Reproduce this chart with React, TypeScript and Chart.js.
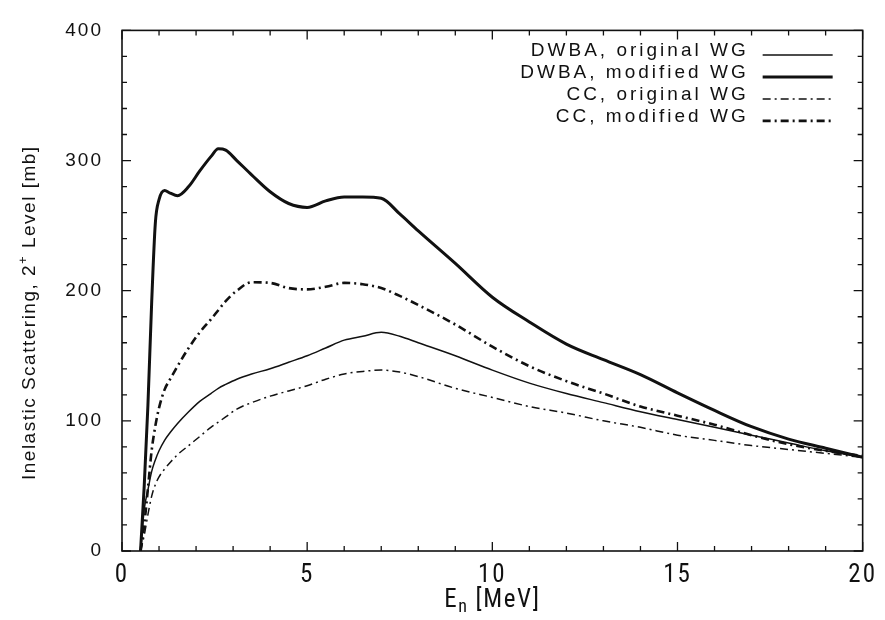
import React, { useEffect, useRef } from "react";
import { Chart, registerables } from "chart.js";

Chart.register(...registerables);

// Neutron energy grid [MeV]
const energies = [
  0.5, 0.6, 0.7, 0.8, 0.9, 1.0, 1.15, 1.3, 1.5, 1.8, 2.1, 2.4, 2.6, 2.8, 3.1, 3.5,
  4.0, 4.5, 5.0, 5.5, 6.0, 6.5, 7.0, 7.5, 8.0, 9.0, 10.0, 11.0, 12.0, 13.0, 14.0,
  15.0, 16.0, 17.0, 18.0, 19.0, 20.0,
];

// Inelastic scattering cross sections [mb]
const dwbaOriginal = [
  0, 32, 47, 61, 70, 77, 85, 91, 98, 107, 115, 121, 125, 128, 132, 136,
  140, 145, 150, 156, 162, 165, 168, 165, 160, 150, 139, 129, 121, 114, 107,
  101, 95, 89, 83, 77, 72,
];
const dwbaModified = [
  0, 50, 112, 190, 252, 270, 277, 275, 273, 280, 292, 303, 309, 308, 300, 289,
  276, 267, 264, 269, 272, 272, 271, 259, 246, 221, 195, 176, 159, 147, 135.5,
  121.5, 108, 95.5, 86, 79, 72,
];
const ccOriginal = [
  0, 12, 28, 42, 51, 57, 63, 68, 74, 81, 88, 95, 99, 103, 109, 114,
  119, 123, 127, 132, 136, 138, 139, 137.5, 134, 125, 118, 111, 106, 100, 95,
  89, 85, 81, 78, 75, 72,
];
const ccModified = [
  0, 20, 48, 77, 96, 110, 124, 132, 142, 156, 168, 178, 185, 192, 200, 206.5,
  206, 202, 201, 203, 206, 205, 202, 196, 189, 174, 157, 142, 130.5, 121, 111,
  104, 97, 89, 82, 77, 73,
];

const seriesLabels = [
  "DWBA, original WG",
  "DWBA, modified WG",
  "CC, original WG",
  "CC, modified WG",
];

const xMin = 0;
const xMax = 20;
const xMajorStep = 5;
const xMinorStep = 1;
const yMin = 0;
const yMax = 400;
const yMajorStep = 100;
const yMinorStep = 20;

const INK = "#111111";
const FONT = "'Liberation Sans', Arial, Helvetica, sans-serif";
const NARROW = "'Roboto Condensed', 'DejaVu Sans Condensed', sans-serif";

const framePlugin = {
  id: "gnuplotFrame",
  beforeDraw(chart: any) {
    chart.ctx.letterSpacing = "2px";
  },
  afterDraw(chart: any) {
    const { ctx, chartArea: a, scales } = chart;
    const xs = scales.x;
    const ys = scales.y;
    ctx.save();
    ctx.letterSpacing = "0px";
    ctx.setLineDash([]);
    ctx.strokeStyle = INK;
    ctx.fillStyle = INK;

    // frame
    ctx.lineWidth = 1.6;
    ctx.strokeRect(a.left, a.top, a.right - a.left, a.bottom - a.top);

    // inward tick marks (mirrored)
    ctx.lineWidth = 1.3;
    ctx.beginPath();
    for (let v = xMin; v <= xMax + 1e-9; v += xMinorStep) {
      const px = xs.getPixelForValue(v);
      const len = Math.abs(v % xMajorStep) < 1e-9 ? 9 : 5;
      ctx.moveTo(px, a.bottom);
      ctx.lineTo(px, a.bottom - len);
      ctx.moveTo(px, a.top);
      ctx.lineTo(px, a.top + len);
    }
    for (let v = yMin; v <= yMax + 1e-9; v += yMinorStep) {
      const py = ys.getPixelForValue(v);
      const len = Math.abs(v % yMajorStep) < 1e-9 ? 9 : 5;
      ctx.moveTo(a.left, py);
      ctx.lineTo(a.left + len, py);
      ctx.moveTo(a.right, py);
      ctx.lineTo(a.right - len, py);
    }
    ctx.stroke();

    // x-axis title: E_n [MeV]
    ctx.textBaseline = "alphabetic";
    ctx.textAlign = "left";
    ctx.letterSpacing = "1.5px";
    const bigX = `25px ${NARROW}`;
    const subX = `18px ${NARROW}`;
    ctx.font = bigX;
    const wE = ctx.measureText("E").width;
    const wRest = ctx.measureText(" [MeV]").width;
    ctx.font = subX;
    const wN = ctx.measureText("n").width;
    const cx = (a.left + a.right) / 2;
    const x0 = cx - (wE + wN + wRest) / 2;
    const base = a.bottom + 56;
    ctx.font = bigX;
    ctx.fillText("E", x0, base);
    ctx.font = subX;
    ctx.fillText("n", x0 + wE, base + 5);
    ctx.font = bigX;
    ctx.fillText(" [MeV]", x0 + wE + wN, base);

    // y-axis title
    ctx.save();
    ctx.translate(35, (a.top + a.bottom) / 2 + 22);
    ctx.rotate(-Math.PI / 2);
    ctx.letterSpacing = "1.5px";
    const bigY = `19px ${FONT}`;
    const supY = `13px ${FONT}`;
    const p1 = "Inelastic Scattering, 2";
    const p2 = "+";
    const p3 = " Level [mb]";
    ctx.font = bigY;
    const w1 = ctx.measureText(p1).width;
    const w3 = ctx.measureText(p3).width;
    ctx.font = supY;
    const w2 = ctx.measureText(p2).width;
    const y0 = -(w1 + w2 + w3) / 2;
    ctx.font = bigY;
    ctx.fillText(p1, y0, 0);
    ctx.font = supY;
    ctx.fillText(p2, y0 + w1, -8);
    ctx.font = bigY;
    ctx.fillText(p3, y0 + w1 + w2, 0);
    ctx.restore();

    // legend (gnuplot style: right-aligned text, sample to the right)
    chart.data.datasets.forEach((ds: any, i: number) => {
      const by = a.top + 25.5 + i * 22;
      ctx.font = `19px ${FONT}`;
      ctx.letterSpacing = "3px";
      ctx.textAlign = "right";
      ctx.fillText(ds.label, a.right - 114, by);
      ctx.beginPath();
      ctx.lineWidth = ds.borderWidth;
      ctx.setLineDash(ds.borderDash || []);
      ctx.moveTo(a.right - 100, by - 1);
      ctx.lineTo(a.right - 30, by - 1);
      ctx.stroke();
    });
    ctx.restore();
  },
};

export default function App() {
  const canvasRef = useRef<HTMLCanvasElement | null>(null);

  useEffect(() => {
    document.body.style.margin = "0";
    const canvas = canvasRef.current;
    if (!canvas) return;
    const toPts = (vals: number[]) => energies.map((e, i) => ({ x: e, y: vals[i] }));
    const seriesValues = [dwbaOriginal, dwbaModified, ccOriginal, ccModified];
    const widths = [1.5, 3, 1.5, 2.6];
    const dashes = [[], [], [8, 4, 2, 4], [8, 4, 2, 4]];

    const chart = new Chart(canvas, {
      type: "line",
      data: {
        datasets: seriesValues.map((vals, i) => ({
          label: seriesLabels[i],
          data: toPts(vals),
          borderColor: INK,
          backgroundColor: INK,
          borderWidth: widths[i],
          borderDash: dashes[i],
          pointRadius: 0,
          fill: false,
          cubicInterpolationMode: "monotone" as const,
        })),
      },
      options: {
        animation: false,
        responsive: false,
        maintainAspectRatio: false,
        layout: { padding: { top: 19, right: 20, left: 0, bottom: 0 } },
        plugins: {
          legend: { display: false },
          tooltip: { enabled: false },
          title: { display: false },
        },
        scales: {
          x: {
            type: "linear",
            min: xMin,
            max: xMax,
            grid: { display: false, drawTicks: false },
            border: { display: false },
            ticks: {
              stepSize: xMajorStep,
              color: INK,
              padding: 10,
              maxRotation: 0,
              font: { family: NARROW, size: 25 },
            },
            afterFit: (s: any) => {
              s.height = 69;
            },
          },
          y: {
            type: "linear",
            min: yMin,
            max: yMax,
            grid: { display: false, drawTicks: false },
            border: { display: false },
            ticks: {
              stepSize: yMajorStep,
              color: INK,
              padding: 19,
              font: { family: FONT, size: 19 },
            },
            afterFit: (s: any) => {
              s.width = 122;
            },
          },
        },
      },
      plugins: [framePlugin],
    });
    return () => chart.destroy();
  }, []);

  return (
    <div style={{ width: 885, height: 620, background: "#fff" }}>
      <canvas ref={canvasRef} width={885} height={620} />
    </div>
  );
}
